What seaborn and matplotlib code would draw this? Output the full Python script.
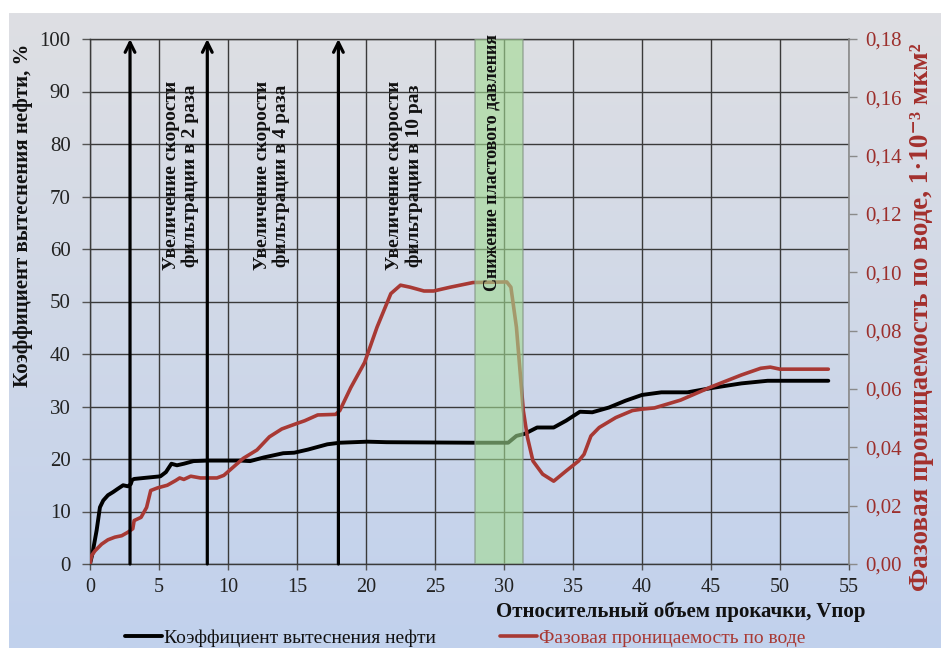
import numpy as np
import pandas as pd
import matplotlib
matplotlib.use("Agg")
import matplotlib.pyplot as plt
from matplotlib.ticker import MultipleLocator, FuncFormatter
import seaborn as sns

# ---------------- data ----------------
x_oil = [0, 0.17, 0.48, 0.72, 0.96, 1.3, 1.67, 2.0, 2.4, 2.75, 2.95, 3.05, 3.2, 3.95,
         5.1, 5.5, 5.9, 6.3, 6.8, 7.5, 8.5, 9.9, 10.9, 11.6, 12.6, 14.0, 14.8, 15.8,
         17.2, 18.1, 20.1, 21.5, 27.75, 30.3, 30.9, 31.5, 32.4, 33.6, 34.5, 35.5,
         36.4, 37.6, 38.8, 40.0, 41.4, 43.3, 45.0, 47.2, 49.1, 50.0, 53.5]
y_oil = [0, 1.9, 6.4, 10.8, 12.1, 13.1, 13.7, 14.3, 15.0, 14.8, 15.2, 16.0, 16.2, 16.4,
         16.7, 17.5, 19.1, 18.8, 19.1, 19.6, 19.7, 19.7, 19.7, 19.6, 20.3, 21.1, 21.2, 21.8,
         22.8, 23.1, 23.3, 23.2, 23.1, 23.1, 24.4, 24.8, 26.0, 26.0, 27.3, 29.0,
         28.9, 29.8, 31.1, 32.2, 32.7, 32.7, 33.5, 34.4, 34.9, 34.9, 34.9]

x_perm = [0, 0.12, 0.36, 0.84, 1.3, 1.8, 2.3, 2.75, 3.1, 3.2, 3.7, 4.1, 4.4, 4.9, 5.6,
          6.2, 6.5, 6.8, 7.3, 8.0, 9.2, 9.7, 10.4, 11.1, 12.1, 13.0, 13.9, 15.0, 15.55,
          16.5, 17.8, 18.1, 18.9, 19.9, 20.8, 21.8, 22.5, 23.2, 24.2, 24.9, 26.1, 27.75,
          30.2, 30.5, 30.9, 31.1, 31.4, 31.7, 32.1, 32.8, 33.6, 34.5, 35.4, 35.8, 36.3,
          36.9, 38.1, 39.3, 40.0, 40.9, 42.8, 45.0, 47.2, 48.6, 49.3, 50.0, 53.5]
y_perm = [0, 0.0029, 0.0045, 0.0068, 0.0083, 0.0092, 0.0097, 0.0109, 0.0121, 0.0149,
          0.0160, 0.0194, 0.0252, 0.0261, 0.0270, 0.0286, 0.0295, 0.0290, 0.0301, 0.0295,
          0.0295, 0.0304, 0.0333, 0.0362, 0.0391, 0.0436, 0.0463, 0.0482, 0.0491, 0.0511,
          0.0513, 0.0526, 0.0605, 0.0691, 0.0812, 0.0927, 0.0956, 0.0949, 0.0936, 0.0936,
          0.0949, 0.0965, 0.0967, 0.0949, 0.0812, 0.0697, 0.0526, 0.0434, 0.0353, 0.0308,
          0.0284, 0.0319, 0.0353, 0.0376, 0.0439, 0.0468, 0.0502, 0.0526, 0.0531, 0.0535,
          0.0562, 0.0607, 0.0648, 0.0671, 0.0675, 0.0668, 0.0668]

arrow_x = [2.9, 8.5, 18.0]
note_x = [6.6, 13.2, 22.8]
note_texts = ["Увеличение скорости\nфильтрации в 2 раза",
              "Увеличение скорости\nфильтрации в 4 раза",
              "Увеличение скорости\nфильтрации в 10 раз"]
band = (27.9, 31.4)
band_text = "Снижение пластового давления"

label_oil = "Коэффициент вытеснения нефти"
label_perm = "Фазовая проницаемость по воде"
ylabel_left = "Коэффициент вытеснения нефти, %"
ylabel_right = "Фазовая проницаемость по воде, 1·10⁻³ мкм²"
xlabel = "Относительный объем прокачки, Vпор"

# ---------------- style ----------------
sns.set_style("white")
plt.rcParams["font.family"] = ["Liberation Serif", "DejaVu Serif"]

RED = "#a83934"
RED_TXT = "#9c2f2c"
GRID = "#3a3a3a"

W, H = 941, 648
fig = plt.figure(figsize=(W / 100, H / 100), dpi=100)
fig.patch.set_facecolor("white")

# gradient background
bg = fig.add_axes([9 / W, 0, 1 - 9 / W, 1 - 13 / H], zorder=-10)
g = np.linspace(0, 1, 256)[:, None, None]
top = np.array([222, 223, 227]) / 255
bot = np.array([193, 209, 237]) / 255
bg.imshow(top * (1 - g) + bot * g, aspect="auto", extent=[0, 1, 0, 1])
bg.axis("off")

ax = fig.add_axes([90 / W, 1 - 564 / H, (849 - 90) / W, (564 - 39) / H])
ax.patch.set_alpha(0)
ax2 = ax.twinx()

df_oil = pd.DataFrame({"x": x_oil, "y": y_oil})
df_perm = pd.DataFrame({"x": x_perm, "y": y_perm})
sns.lineplot(data=df_oil, x="x", y="y", ax=ax, color="black", lw=2.8,
             estimator=None, sort=False, label=label_oil, legend=False)
sns.lineplot(data=df_perm, x="x", y="y", ax=ax2, color=RED, lw=2.6,
             estimator=None, sort=False, label=label_perm, legend=False)

ax.set_xlim(0, 55)
ax.set_ylim(0, 100)
ax2.set_ylim(0, 0.18)
ax.xaxis.set_major_locator(MultipleLocator(5))
ax.yaxis.set_major_locator(MultipleLocator(10))
ax2.yaxis.set_major_locator(MultipleLocator(0.02))
ax2.yaxis.set_major_formatter(FuncFormatter(lambda v, p: f"{v:.2f}".replace(".", ",")))
ax.grid(True, color=GRID, lw=1)
ax.set_axisbelow(True)
ax.set_xlabel("")
ax.set_ylabel("")
ax2.set_ylabel("")

for s in ["left", "bottom", "top"]:
    ax.spines[s].set_color(GRID)
    ax.spines[s].set_linewidth(1)
ax.spines["right"].set_visible(False)
for s in ["left", "bottom", "top"]:
    ax2.spines[s].set_visible(False)
ax2.spines["right"].set_color("#8a8a8a")
ax2.spines["right"].set_linewidth(1.2)

ax.tick_params(axis="y", left=True, direction="out", length=6, width=1, color="#555555",
               labelsize=15, pad=8, labelcolor="#222222")
ax.tick_params(axis="x", bottom=True, direction="out", length=4, width=1, color="#555555",
               labelsize=14.5, pad=6, labelcolor="#222222")
ax2.tick_params(axis="y", right=True, direction="out", length=6, width=1, color="#8a8a8a",
                labelsize=15, pad=6, labelcolor=RED_TXT)

# band (on top so curves look tinted)
ax2.axvspan(band[0], band[1], facecolor="#a2db92", alpha=0.6, edgecolor="#7f907f",
            lw=1.2, zorder=5)
ax2.text((band[0] + band[1]) / 2 - 0.55, 76.5, band_text, transform=ax.transData,
         rotation=90, ha="center", va="center", fontsize=13, fontweight="bold",
         color="#111111", zorder=6)

# arrows
for xa in arrow_x:
    ax2.annotate("", xy=(xa, 100), xytext=(xa, 0), xycoords=ax.transData,
                 textcoords=ax.transData,
                 arrowprops=dict(arrowstyle="->,head_length=0.7,head_width=0.35",
                                 color="black", lw=2.3, shrinkA=0, shrinkB=0),
                 zorder=7)

for xn, t in zip(note_x, note_texts):
    ax2.text(xn, 74, t, transform=ax.transData, rotation=90, ha="center", va="center",
             multialignment="center", fontsize=14, fontweight="bold", color="#111111",
             linespacing=1.15, zorder=6)

# axis labels
fig.text(23 / W, 1 - 215 / H, ylabel_left, rotation=90, ha="center", va="center",
         fontsize=15, fontweight="bold", color="#111111")
fig.text(921 / W, 1 - 317 / H, ylabel_right, rotation=90, ha="center", va="center",
         fontsize=19.5, fontweight="bold", color="#a3302d")
fig.text(866 / W, 1 - 612 / H, xlabel, ha="right", va="center",
         fontsize=15, fontweight="bold", color="#111111")

# legend
h1 = ax.get_lines()[0]
h2 = ax2.get_lines()[0]
leg = fig.legend([h1, h2], [label_oil, label_perm], loc="center left",
                 bbox_to_anchor=(125 / W, 1 - 638 / H), ncol=2, frameon=False,
                 fontsize=14, handlelength=1.9, handletextpad=0.1, columnspacing=3.3,
                 borderaxespad=0, borderpad=0)
leg.get_texts()[0].set_color("#111111")
leg.get_texts()[1].set_color(RED)

fig.savefig("out.png", dpi=100)
